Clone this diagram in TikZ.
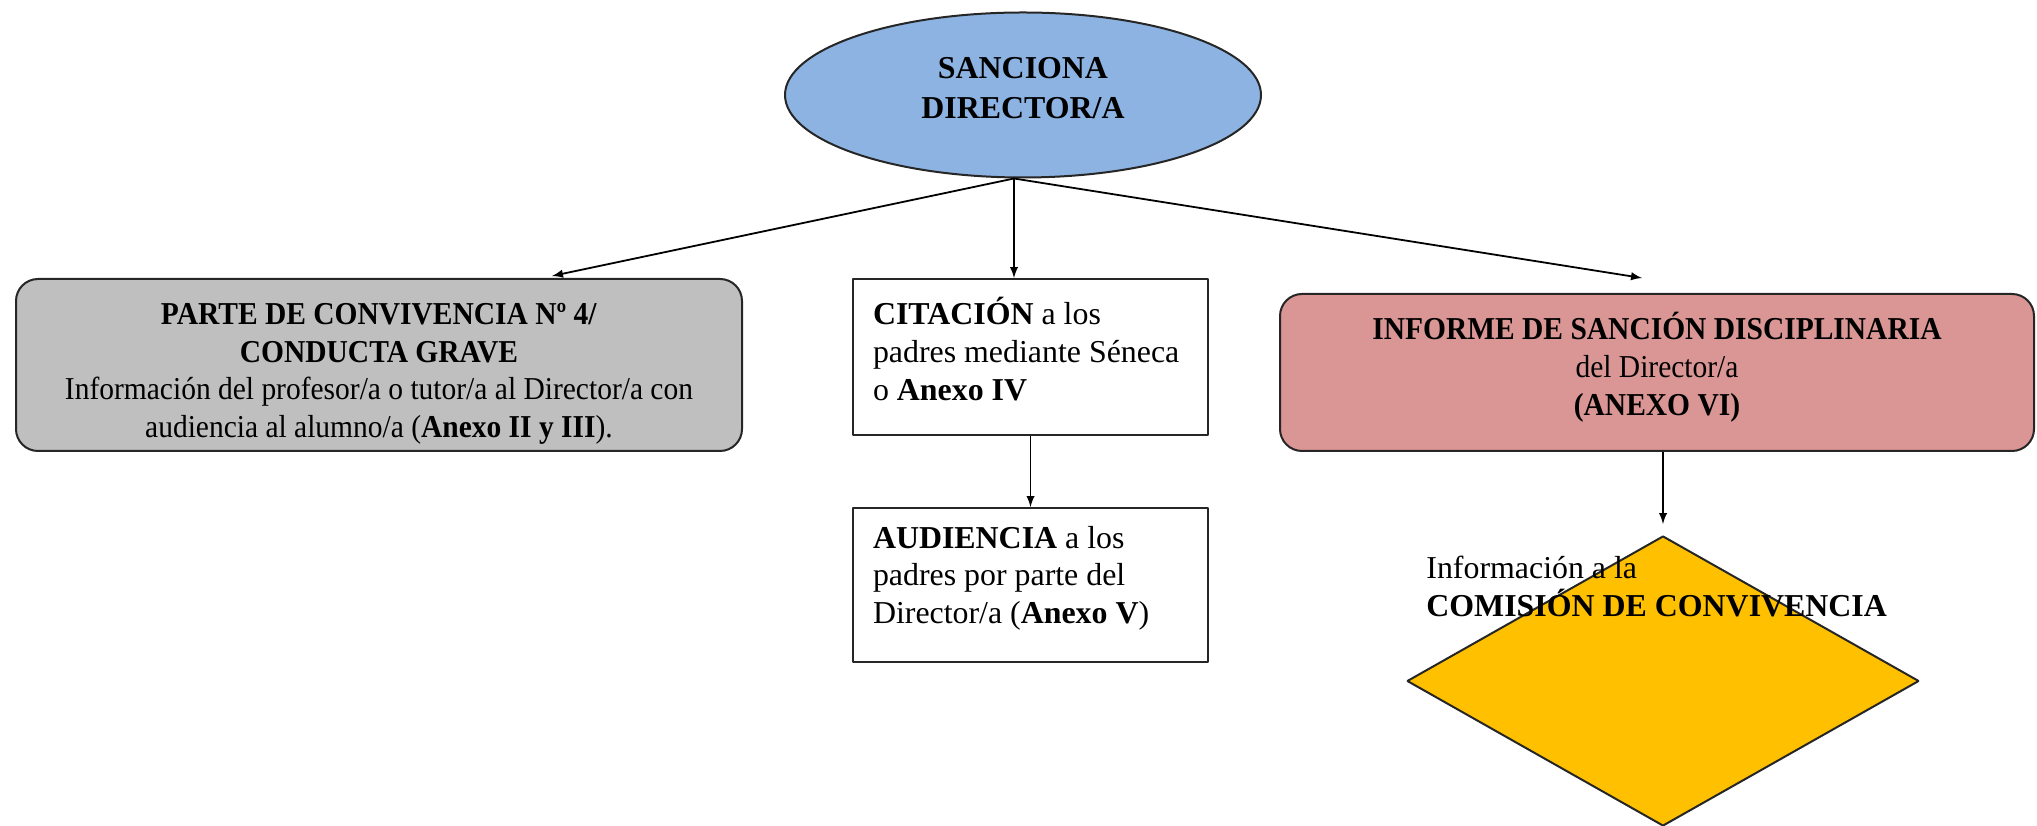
\documentclass[tikz,border=0pt]{standalone}
\usepackage{fontspec}
\setmainfont{Liberation Serif}
\newfontfamily\narrowfont[FakeStretch=0.925]{Liberation Serif}
\usetikzlibrary{shapes.geometric}
\definecolor{sancblue}{RGB}{141,179,226}
\definecolor{partegray}{RGB}{191,191,191}
\definecolor{informepink}{RGB}{217,150,148}
\definecolor{comisionyellow}{RGB}{255,192,0}
\begin{document}
\begin{tikzpicture}[>=latex,line join=bevel,
  boxline/.style={draw=black!85,line width=1bp},
  ovalnode/.style={boxline,ellipse,fill=sancblue,inner sep=0pt,font=\fontsize{16}{20}\selectfont\bfseries},
  roundbox/.style={boxline,rounded corners=11bp,inner sep=0pt,font=\narrowfont\fontsize{16}{19}\selectfont},
  plainbox/.style={boxline,fill=white,inner xsep=10bp,inner ysep=9bp,font=\fontsize{16}{19}\selectfont},
  arrowline/.style={black,line width=0.9bp,->},
]
%%
\useasboundingbox (0bp,0bp) rectangle (1018.5bp,413bp);
\node (node_sanciona) at (511.5bp,365.5bp) [ovalnode,minimum width=238bp,minimum height=82.5bp] {\parbox[c][48bp][c]{120bp}{\centering SANCIONA\\DIRECTOR/A\vspace*{6.5bp}}};
  \node (node_parte) at (189.5bp,230.5bp) [roundbox,fill=partegray,minimum width=363bp,minimum height=86bp] {\parbox[c][80bp][c]{350bp}{\centering\vspace*{8.8bp}\textbf{PARTE DE CONVIVENCIA Nº 4/}\\\textbf{CONDUCTA GRAVE}\\Información del profesor/a o tutor/a al Director/a con\\audiencia al alumno/a (\textbf{Anexo II y III}).}};
  \node (node_citacion) at (515.25bp,234.5bp) [plainbox] {\parbox[c][60bp][t]{157.5bp}{\raggedright\textbf{CITACIÓN} a los\\padres mediante Séneca\\o \textbf{Anexo IV}}};
  \node (node_audiencia) at (515.25bp,120.5bp) [plainbox] {\parbox[c][59bp][t]{157.5bp}{\raggedright\textbf{AUDIENCIA} a los\\padres por parte del\\Director/a (\textbf{Anexo V})}};
  \node (node_informe) at (828.5bp,226.75bp) [roundbox,fill=informepink,minimum width=377bp,minimum height=78.5bp] {\parbox[c][74bp][c]{360bp}{\centering\textbf{INFORME DE SANCIÓN DISCIPLINARIA}\\del Director/a\\\textbf{(ANEXO VI)}\vspace*{5.6bp}}};
  \node (node_comision) at (831.5bp,72.5bp) [boxline,diamond,fill=comisionyellow,inner sep=0pt,minimum width=256bp,minimum height=145bp] {};
  \node (node_info) at (713bp,119.75bp) [anchor=west,align=left,inner sep=0pt,font=\fontsize{16}{19}\selectfont] {Información a la\\\textbf{COMISIÓN DE CONVIVENCIA}};
%
\coordinate (node_top) at ([xshift=-4.5bp]node_sanciona.south);
  \draw [arrowline] (node_top) -- ([xshift=86.5bp,yshift=1bp]node_parte.north);
  \draw [arrowline] (node_top) -- (node_top |- node_citacion.north);
  \draw [arrowline] (node_top) -- ([xshift=-7.5bp,yshift=7.5bp]node_informe.north);
  \draw [arrowline] (node_citacion.south) -- (node_audiencia.north);
  \draw [arrowline] (node_comision.north |- node_informe.south) -- ([yshift=5.5bp]node_comision.north);
%
\end{tikzpicture}
\end{document}
